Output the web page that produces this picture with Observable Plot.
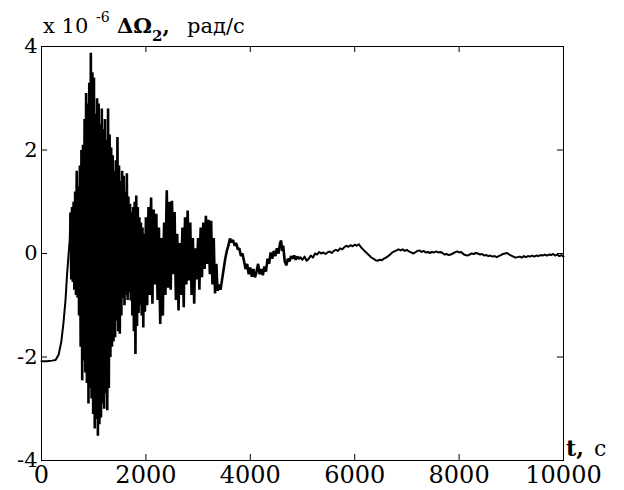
<!DOCTYPE html>
<html>
<head>
<meta charset="utf-8">
<script src="https://cdn.jsdelivr.net/npm/d3@7"></script>
<script src="https://cdn.jsdelivr.net/npm/@observablehq/plot@0.6"></script>
<style>
  html, body { margin: 0; padding: 0; background: #fff; }
  svg { display: block; }
  svg text { font-family: "DejaVu Serif", serif !important; }
</style>
</head>
<body>
<div id="chart"></div>
<script>
// Values in units of 1e-6 rad/s, time in seconds
const xTicks = [0, 2000, 4000, 6000, 8000, 10000];
const yTicks = [-4, -2, 0, 2, 4];

const startPhase = [
  [0,-2.08],[100,-2.08],[200,-2.07],[270,-2.06],[330,-1.95],[380,-1.7],[420,-1.35],
  [460,-0.9],[490,-0.4],[520,0.0],[540,0.25]
];

const densePhase = [
  [555,0.77],[570,-0.5],[585,0.9],[600,-0.55],[615,1.0],[630,-0.7],[645,1.2],[660,-0.8],
  [675,1.6],[690,-0.85],[705,1.3],[720,-1.2],[735,1.7],[750,-1.8],[765,2.0],[780,-2.45],
  [795,2.1],[810,-2.07],[825,2.6],[840,-2.3],[855,3.1],[870,-2.5],[885,2.9],[900,-2.9],
  [915,3.3],[930,-2.6],[945,3.88],[960,-2.8],[975,3.5],[990,-3.1],[1005,3.4],[1020,-3.38],
  [1035,2.7],[1050,-3.2],[1065,3.0],[1080,-3.52],[1095,2.9],[1110,-3.3],[1125,2.5],[1140,-3.17],
  [1155,2.8],[1170,-2.9],[1185,2.4],[1200,-3.0],[1215,2.6],[1230,-2.7],[1245,2.2],[1260,-3.03],
  [1275,2.8],[1290,-2.6],[1305,2.3],[1320,-2.0],[1335,2.05],[1350,-1.8],[1365,1.9],[1380,-1.7],
  [1395,1.6],[1410,-1.62],[1425,1.8],[1440,-1.3],[1455,2.25],[1470,-1.5],[1485,1.7],[1500,-1.55],
  [1515,1.4],[1530,-1.2],[1545,1.6],[1560,-0.85],[1575,1.5],[1590,-1.0],[1605,1.2],[1620,-0.8],
  [1635,1.55],[1650,-0.9],[1665,1.1],[1680,-0.75],[1695,0.96],[1710,-0.91],[1725,0.8],[1740,-1.2],
  [1755,0.9],[1770,-1.5],[1785,1.0],[1800,-1.94],[1815,1.12],[1830,-1.4],[1845,0.9],[1860,-1.15],
  [1875,0.7],[1890,-1.0],[1905,0.6],[1920,-1.2],[1935,0.5],[1950,-1.43],[1965,0.38],[1980,-1.1]
];

const decayPhase = [
  [2000,0.7],[2015,-0.6],[2025,-1.0],[2040,0.4],[2050,0.9],[2065,-0.3],[2075,-0.8],[2090,0.6],
  [2100,1.08],[2115,-0.4],[2125,-0.97],[2140,0.3],[2150,0.85],[2165,-0.2],[2175,-0.6],[2190,0.4],
  [2200,0.77],[2215,-0.5],[2225,-0.9],[2240,0.1],[2250,0.5],[2265,-0.8],[2275,-1.36],[2290,-0.2],
  [2300,0.3],[2315,-0.7],[2325,-1.2],[2340,0.2],[2350,0.6],[2365,-0.4],[2375,-0.8],[2390,0.7],
  [2400,1.22],[2415,0.1],[2425,-0.66],[2440,0.5],[2450,1.0],[2465,0.0],[2475,-0.7],[2490,0.4],
  [2500,1.02],[2515,0.2],[2525,-0.4],[2540,0.3],[2550,0.8],[2565,-0.3],[2575,-0.9],[2590,0.0],
  [2600,0.38],[2615,-0.5],[2625,-1.1],[2640,-0.3],[2650,0.2],[2665,-0.4],[2675,-0.8],[2690,0.1],
  [2700,0.5],[2715,-0.5],[2725,-1.04],[2740,0.2],[2750,0.7],[2765,-0.1],[2775,-0.6],[2790,0.4],
  [2800,0.83],[2815,0.0],[2825,-0.52],[2840,0.2],[2850,0.6],[2865,-0.3],[2875,-0.8],[2890,0.0],
  [2900,0.3],[2915,-0.5],[2925,-0.97],[2940,-0.2],[2950,0.1],[2965,-0.3],[2975,-0.5],[2990,0.0],
  [3000,0.3],[3012,-0.2],[3025,-0.7],[3037,0.1],[3050,0.5],[3062,0.0],[3075,-0.46],[3087,0.2],
  [3100,0.6],[3112,0.1],[3125,-0.3],[3137,0.4],[3150,0.73],[3162,0.2],[3175,-0.2],[3187,0.3],
  [3200,0.65],[3212,0.1],[3225,-0.4],[3237,0.2],[3250,0.63],[3262,0.0],[3275,-0.6],[3287,-0.1],
  [3300,0.3],[3312,-0.3],[3325,-0.77],[3337,-0.4],[3350,-0.2],[3362,-0.5],[3375,-0.72],
  [3400,-0.6],[3430,-0.7],[3460,-0.5],[3490,-0.3],[3520,-0.1],[3550,0.05],[3580,0.15],[3610,0.29],
  [3640,0.22],[3670,0.26],[3700,0.15],[3730,0.2],[3760,0.08],[3790,0.1],[3820,-0.05],[3850,0.0],
  [3880,-0.15],[3910,-0.3],[3940,-0.2],[3970,-0.4],[4000,-0.27],[4030,-0.45],[4060,-0.3],[4090,-0.46],
  [4120,-0.35],[4150,-0.2],[4180,-0.4],[4210,-0.3],[4240,-0.42],[4270,-0.25],[4300,-0.35],[4330,-0.1],
  [4360,-0.2],[4390,0.02],[4420,-0.1],[4450,0.05],[4480,-0.05],[4510,0.1],[4540,0.0],[4570,0.2],
  [4590,0.25],[4610,0.05],[4630,0.15],[4660,-0.15],[4690,-0.23],[4720,-0.1],[4750,-0.15],[4780,-0.05],
  [4810,-0.1],[4840,-0.04],[4870,-0.12],[4900,-0.06],[4930,-0.1],[4960,-0.08]
];

const tailPhase = [
  [5000,-0.12],[5040,-0.06],[5080,-0.14],[5120,-0.1],[5160,-0.04],[5200,-0.08],[5240,0.0],[5280,-0.02],
  [5320,0.03],[5360,0.0],[5400,0.02],[5440,-0.01],[5480,0.02],[5520,0.04],[5560,0.01],[5600,0.05],
  [5640,0.07],[5680,0.05],[5720,0.1],[5760,0.08],[5800,0.12],[5840,0.15],[5880,0.13],[5920,0.16],
  [5960,0.14],[6000,0.17],[6040,0.15],[6080,0.18],[6120,0.12],[6160,0.08],[6200,0.04],[6240,0.0],
  [6280,-0.04],[6320,-0.08],[6360,-0.1],[6400,-0.13],[6440,-0.14],[6480,-0.12],[6520,-0.13],[6560,-0.1],
  [6600,-0.08],[6640,-0.05],[6680,-0.02],[6720,0.02],[6760,0.04],[6800,0.06],[6840,0.08],[6880,0.06],
  [6920,0.08],[6960,0.05],[7000,0.07],[7040,0.04],[7080,0.02],[7120,0.0],[7160,0.02],[7200,0.05],
  [7240,0.06],[7280,0.03],[7320,0.05],[7360,0.02],[7400,0.03],[7440,0.01],[7480,0.03],[7520,0.02],
  [7560,0.04],[7600,0.02],[7640,0.03],[7680,0.01],[7720,-0.02],[7760,-0.01],[7800,-0.03],[7840,-0.02],
  [7880,0.0],[7920,0.02],[7960,0.04],[8000,0.02],[8040,0.03],[8080,-0.01],[8120,-0.03],[8160,-0.04],
  [8200,-0.02],[8240,0.0],[8280,-0.01],[8320,0.01],[8360,0.0],[8400,-0.02],[8440,-0.01],[8480,-0.04],
  [8520,-0.03],[8560,-0.05],[8600,-0.04],[8640,-0.06],[8680,-0.05],[8720,-0.07],[8760,-0.05],[8800,-0.03],
  [8840,-0.01],[8880,0.0],[8920,0.01],[8960,-0.02],[9000,-0.04],[9040,-0.06],[9080,-0.08],[9120,-0.07],
  [9160,-0.06],[9200,-0.08],[9240,-0.05],[9280,-0.07],[9320,-0.05],[9360,-0.06],[9400,-0.04],[9440,-0.06],
  [9480,-0.04],[9520,-0.05],[9560,-0.03],[9600,-0.04],[9640,-0.02],[9680,-0.04],[9720,-0.02],[9760,-0.03],
  [9800,-0.01],[9840,-0.04],[9880,-0.02],[9920,-0.05],[9960,-0.03],[10000,-0.06]
];

const toRows = arr => arr.map(([t, v]) => ({t, v}));
const risingRows = toRows([...startPhase, densePhase[0]]);
const denseRows = toRows(densePhase);
const decayRows = toRows([densePhase[densePhase.length - 1], ...decayPhase]);
const calmRows = toRows([decayPhase[decayPhase.length - 1], ...tailPhase]);

const serif = "DejaVu Serif, serif";

const W = 624, H = 490;
const mL = 41, mR = 61, mT = 46, mB = 30;
const innerW = W - mL - mR, innerH = H - mT - mB;
const tick = 6;

const svg = Plot.plot({
  width: W,
  height: H,
  marginLeft: mL,
  marginRight: mR,
  marginTop: mT,
  marginBottom: mB,
  style: {fontFamily: serif, color: "black", background: "white", overflow: "visible"},
  x: {domain: [0, 10000]},
  y: {domain: [-4, 4]},
  marks: [
    Plot.line(risingRows, {x: "t", y: "v", stroke: "black", strokeWidth: 2}),
    Plot.line(denseRows, {x: "t", y: "v", stroke: "black", strokeWidth: 2.6, strokeLinejoin: "miter"}),
    Plot.line(decayRows, {x: "t", y: "v", stroke: "black", strokeWidth: 2.6, strokeLinejoin: "miter"}),
    Plot.line(calmRows, {x: "t", y: "v", stroke: "black", strokeWidth: 2}),
    Plot.frame({stroke: "black", strokeWidth: 1}),
    // inward ticks on all four sides
    Plot.tickX(xTicks, {x: d => d, stroke: "black", insetTop: innerH - tick}),
    Plot.tickX(xTicks, {x: d => d, stroke: "black", insetBottom: innerH - tick}),
    Plot.tickY(yTicks, {y: d => d, stroke: "black", insetRight: innerW - tick}),
    Plot.tickY(yTicks, {y: d => d, stroke: "black", insetLeft: innerW - tick}),
    Plot.axisX({ticks: xTicks, anchor: "bottom", tickSize: 0, tickPadding: 5, fontSize: 24, label: null,
      tickFormat: d => String(d)}),
    Plot.axisY({ticks: yTicks, anchor: "left", tickSize: 0, tickPadding: 4, fontSize: 21, label: null,
      tickFormat: d => d < 0 ? "-" + Math.abs(d) : String(d)})
  ]
});

const s = d3.select(svg);
const title = s.append("text")
  .attr("font-family", serif)
  .attr("font-size", 21)
  .attr("text-anchor", "start")
  .attr("fill", "black")
  .attr("y", 33);
title.append("tspan").attr("x", 43).text("x 10");
title.append("tspan").attr("x", 96).attr("dy", -11).attr("font-size", 14).text("-6");
title.append("tspan").attr("x", 117).attr("dy", 11).attr("font-weight", "bold").text("ΔΩ");
title.append("tspan").attr("dy", 8).attr("font-size", 15).attr("font-weight", "bold").text("2");
title.append("tspan").attr("dy", -8).attr("font-weight", "bold").text(",");
title.append("tspan").attr("x", 187).text("рад/с");

const tl = s.append("text")
  .attr("font-family", serif)
  .attr("font-size", 22)
  .attr("text-anchor", "start")
  .attr("fill", "black")
  .attr("y", 456);
tl.append("tspan").attr("x", 566).attr("font-weight", "bold").text("t,");
tl.append("tspan").attr("x", 594).text("c");

document.getElementById("chart").appendChild(svg);
</script>
</body>
</html>
